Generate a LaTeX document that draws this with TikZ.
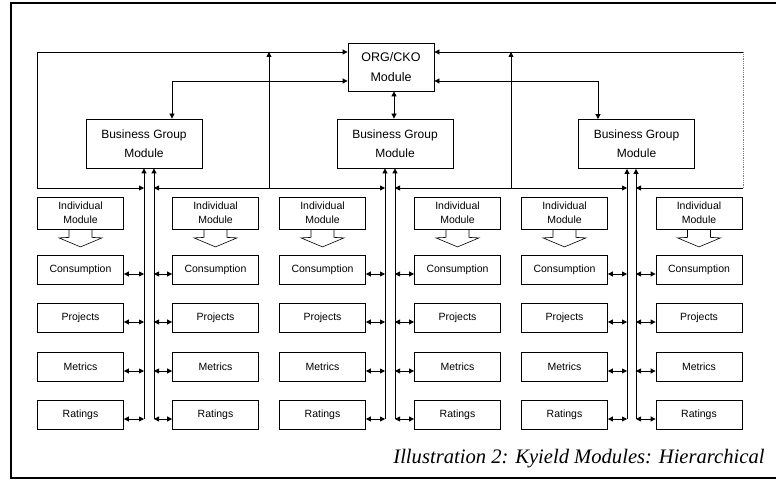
\documentclass[tikz,border=0pt]{standalone}
\usepackage{fontspec}
\setmainfont{Liberation Serif}
\newfontfamily\boxfont{Liberation Sans}
\usetikzlibrary{arrows.meta,calc}
\begin{document}
\begin{tikzpicture}[x=1pt,y=-1pt,
  line width=0.8pt,
  >={Triangle[length=5pt,width=5pt]},
  topbox/.style={draw, inner sep=0pt, align=center, font=\boxfont\fontsize{12}{19}\selectfont},
  bgbox/.style={topbox, minimum width=116pt, minimum height=49pt},
  modbox/.style={draw, inner sep=0pt, minimum width=86pt, minimum height=29pt, align=center, font=\boxfont\fontsize{10.5}{14}\selectfont},
  indbox/.style={modbox, minimum height=32pt},
  hollow/.style={line width=0.6pt},
  frameline/.style={line width=2pt},
  dotline/.style={densely dotted, gray},
]
\useasboundingbox (0,0) rectangle (776,481);
% frame
\draw[frameline] (776,3) -- (11,3) -- (11,478) -- (776,478);

% top level
\node[topbox, minimum width=86pt, minimum height=48pt, font=\boxfont\fontsize{12.5}{20}\selectfont] (org) at (391,67) {ORG/CKO\\Module};
\node[bgbox] (bg1) at (144,143.5) {Business Group\\Module};
\node[bgbox] (bg2) at (395,143.5) {Business Group\\Module};
\node[bgbox] (bg3) at (636.5,144) {Business Group\\Module};

% columns
\foreach \i/\x in {1/80.5,2/215.5,3/322.5,4/457.5,5/564.5,6/699}{
  \node[indbox] (ind\i) at (\x,213) {Individual\\Module};
  \node[modbox] (con\i) at (\x,269.5) {Consumption};
  \node[modbox] (pro\i) at (\x,317.5) {Projects};
  \node[modbox] (met\i) at (\x,366.5) {Metrics};
  \node[modbox] (rat\i) at (\x,414.5) {Ratings};
  \draw[hollow] ([xshift=-11.5pt]ind\i.south) -- ++(0,8) -- ++(-10,0.5) -- ++(21.5,9)
     -- ++(21.5,-9) -- ++(-10,-0.5) -- ++(0,-8);
}

% vertical bus lines
\coordinate (L1) at (144,419);
\coordinate (R1) at (154,419);
\coordinate (L2) at (385,419);
\coordinate (R2) at (395,419);
\coordinate (L3) at (627,419);
\coordinate (R3) at (636,419);
\draw[->] (L1) -- (L1 |- bg1.south);
\draw[->] (R1) -- (R1 |- bg1.south);
\draw[->] (L2) -- (L2 |- bg2.south);
\draw[->] (R2) -- (R2 |- bg2.south);
\draw[->] (L3) -- (L3 |- bg3.south);
\draw[->] (R3) -- (R3 |- bg3.south);

% module to bus connectors
\foreach \c/\v/\s in {1/L1/east,2/R1/west,3/L2/east,4/R2/west,5/L3/east,6/R3/west}{
  \foreach \r in {con,pro,met,rat}{
    \draw[<->] ([yshift=-4.5pt]\r\c.\s) -- ([yshift=-4.5pt]\r\c.\s -| \v);
  }
}

% horizontal bus and top loop
\coordinate (LL) at (37,188);
\coordinate (RR) at (743,188);
\coordinate (t) at (0,52);
\coordinate (v1) at (269,188);
\coordinate (v2) at (511,188);
\draw[<->] (L1 |- LL) -- (LL) |- (org.west |- t);
\draw[<->] (R1 |- LL) -- (L2 |- LL);
\draw[<->] (R2 |- LL) -- (L3 |- LL);
\draw[->] (v1) -- (v1 |- t);
\draw[->] (v2) -- (v2 |- t);
\draw[<-] (R3 |- LL) -- (RR);
\draw[dotline] (RR) -- (RR |- t);
\draw[->] (RR |- t) -- (org.east |- t);

% business group to org
\coordinate (a1) at (172,81);
\coordinate (a3) at (598,81);
\coordinate (m) at (394,0);
\draw[<->] (a1 |- bg1.north) -- (a1) -- (org.west |- a1);
\draw[<->] (a3 |- bg3.north) -- (a3) -- (org.east |- a3);
\draw[<->] (m |- org.south) -- (m |- bg2.north);

% caption
\node[anchor=base west, inner sep=0pt, font=\itshape\fontsize{20.6}{23}\selectfont] (cap) at (393,463) {Illustration 2: Kyield Modules: Hierarchical};
\end{tikzpicture}
\end{document}
